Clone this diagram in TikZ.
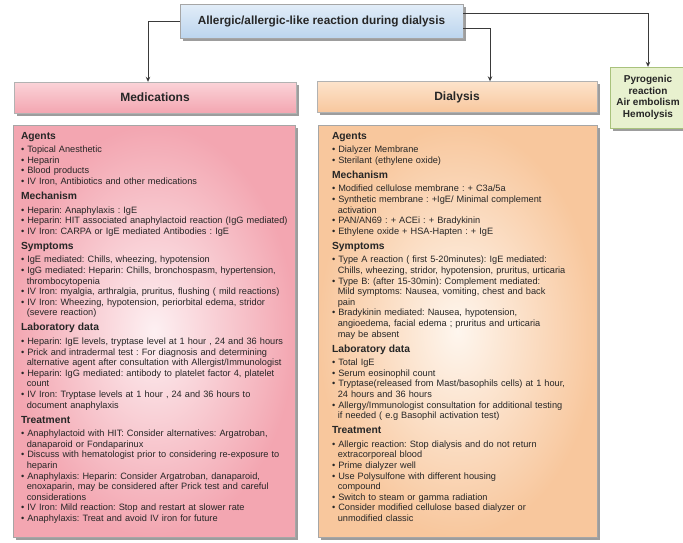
\documentclass[tikz,border=0pt]{standalone}
\usepackage{fontspec}
\setmainfont{Liberation Sans}
\usetikzlibrary{arrows.meta,shadows}
\frenchspacing

\definecolor{ln}{HTML}{3A3A3A}
\definecolor{txtc}{HTML}{262626}
\definecolor{blueA}{HTML}{E2EDF8}
\definecolor{blueB}{HTML}{BCD5EE}
\definecolor{pinkA}{HTML}{FBD3D8}
\definecolor{pinkB}{HTML}{F3A6B1}
\definecolor{pinkC}{HTML}{FDF0F2}
\definecolor{peachA}{HTML}{FDE3CB}
\definecolor{peachB}{HTML}{F8C79D}
\definecolor{peachC}{HTML}{FEF6EE}
\definecolor{greenA}{HTML}{E8F1CF}
\definecolor{greenB}{HTML}{A9C27C}

% section heading and bullet line for the two text panels
\newcommand{\sect}[1]{\par{\fontsize{10.3}{15}\selectfont\bfseries #1\par}\vspace{3pt}}
\newcommand{\bul}[1]{\par\hangindent=5.8pt\hangafter=1\noindent\textbullet\ #1\par}

\begin{document}
\begin{tikzpicture}[x=1pt,y=-1pt,
    every node/.style={text=txtc},
    shad/.style={drop shadow={shadow xshift=2.5pt,shadow yshift=-2.5pt,fill=black!55,opacity=.7}},
    hdr/.style={shad,draw=black!30,line width=.4pt,inner sep=0pt,font=\fontsize{12}{14}\selectfont\bfseries},
    panel/.style={shad,draw=black!35,line width=.4pt,inner sep=0pt},
    txt/.style={anchor=north west,inner sep=0pt,align=left,font=\fontsize{9.2}{10.6}\selectfont},
    conn/.style={draw=ln,line width=.8pt,-{Stealth[length=5pt,width=4.5pt]}}]
    \useasboundingbox (0,0) rectangle (683,542);

    % heading boxes
    \node[hdr,top color=blueA,bottom color=blueB,draw=black!35,
        minimum width=283pt,minimum height=34pt,font=\fontsize{11.8}{14}\selectfont\bfseries]
        (top) at (321.5,21) {Allergic/allergic-like reaction during dialysis};
    \node[hdr,top color=pinkA,bottom color=pinkB,minimum width=282pt,minimum height=31pt]
        (meds) at (155,97.5) {Medications};
    \node[hdr,top color=peachA,bottom color=peachB,minimum width=280pt,minimum height=31pt]
        (dial) at (457,97) {Dialysis};
    \node[hdr,fill=greenA,draw=greenB,minimum width=76pt,minimum height=61pt,align=center,
        font=\fontsize{10}{11.5}\selectfont\bfseries]
        (pyro) at (648,97.5) {Pyrogenic\\reaction\\Air embolism\\Hemolysis};

    % panels
    \node[panel,inner color=pinkC,outer color=pinkB,minimum width=282pt,minimum height=412pt]
        (medsbody) at (154,331) {};
    \node[panel,inner color=peachC,outer color=peachB,minimum width=279pt,minimum height=412pt]
        (dialbody) at (457.5,331) {};

    \node[txt,text width=290pt] (medstxt) at ([xshift=8pt,yshift=1pt]medsbody.north west) {%
        \sect{Agents}
        \bul{Topical Anesthetic}
        \bul{Heparin}
        \bul{Blood products}
        \bul{IV Iron, Antibiotics and other medications}
        \sect{Mechanism}
        \bul{Heparin: Anaphylaxis : IgE}
        \bul{Heparin: HIT associated anaphylactoid reaction (IgG mediated)}
        \bul{IV Iron: CARPA or IgE mediated Antibodies : IgE}
        \sect{Symptoms}
        \bul{IgE mediated: Chills, wheezing, hypotension}
        \bul{IgG mediated: Heparin: Chills, bronchospasm, hypertension,\newline thrombocytopenia}
        \bul{IV Iron: myalgia, arthralgia, pruritus, flushing ( mild reactions)}
        \bul{IV Iron: Wheezing, hypotension, periorbital edema, stridor\newline (severe reaction)}
        \sect{Laboratory data}
        \bul{Heparin: IgE levels, tryptase level at 1 hour , 24 and 36 hours}
        \bul{Prick and intradermal test : For diagnosis and determining\newline alternative agent after consultation with Allergist/Immunologist}
        \bul{Heparin: IgG mediated: antibody to platelet factor 4, platelet\newline count}
        \bul{IV Iron: Tryptase levels at 1 hour , 24 and 36 hours to\newline document anaphylaxis}
        \sect{Treatment}
        \bul{Anaphylactoid with HIT: Consider alternatives: Argatroban,\newline danaparoid or Fondaparinux}
        \bul{Discuss with hematologist prior to considering re-exposure to\newline heparin}
        \bul{Anaphylaxis: Heparin: Consider Argatroban, danaparoid,\newline enoxaparin, may be considered after Prick test and careful\newline considerations}
        \bul{IV Iron: Mild reaction: Stop and restart at slower rate}
        \bul{Anaphylaxis: Treat and avoid IV iron for future}};

    \node[txt,text width=260pt] (dialtxt) at ([xshift=14pt,yshift=1pt]dialbody.north west) {%
        \sect{Agents}
        \bul{Dialyzer Membrane}
        \bul{Sterilant (ethylene oxide)}
        \sect{Mechanism}
        \bul{Modified cellulose membrane : + C3a/5a}
        \bul{Synthetic membrane : +IgE/ Minimal complement\newline activation}
        \bul{PAN/AN69 : + ACEi : + Bradykinin}
        \bul{Ethylene oxide + HSA-Hapten : + IgE}
        \sect{Symptoms}
        \bul{Type A reaction ( first 5-20minutes): IgE mediated:\newline Chills, wheezing, stridor, hypotension, pruritus, urticaria}
        \bul{Type B: (after 15-30min): Complement mediated:\newline Mild symptoms: Nausea, vomiting, chest and back\newline pain}
        \bul{Bradykinin mediated: Nausea, hypotension,\newline angioedema, facial edema ; pruritus and urticaria\newline may be absent}
        \sect{Laboratory data}
        \bul{Total IgE}
        \bul{Serum eosinophil count}
        \bul{Tryptase(released from Mast/basophils cells) at 1 hour,\newline 24 hours and 36 hours}
        \bul{Allergy/Immunologist consultation for additional testing\newline if needed ( e.g Basophil activation test)}
        \sect{Treatment}
        \bul{Allergic reaction: Stop dialysis and do not return\newline extracorporeal blood}
        \bul{Prime dialyzer well}
        \bul{Use Polysulfone with different housing\newline compound}
        \bul{Switch to steam or gamma radiation}
        \bul{Consider modified cellulose based dialyzer or\newline unmodified classic}};

    % connectors
    \draw[conn] (top.west) -| ([xshift=-7pt]meds.north);
    \draw[conn] ([yshift=-7pt]top.east) -| ([xshift=33pt]dial.north);
    \draw[conn] ([yshift=8pt]top.east) -| (pyro.north);
\end{tikzpicture}
\end{document}
